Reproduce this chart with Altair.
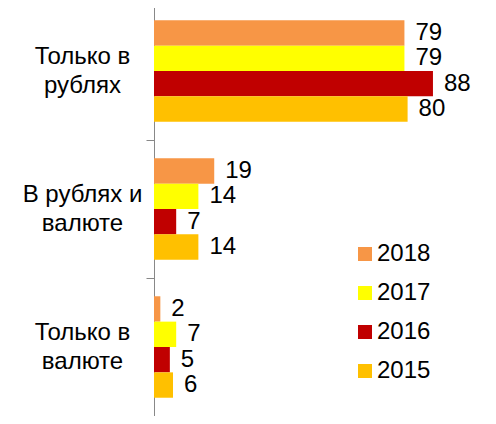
import altair as alt
import pandas as pd

categories = ["Только в|рублях", "В рублях и|валюте", "Только в|валюте"]
years = ["2018", "2017", "2016", "2015"]
v2018 = [79, 19, 2]
v2017 = [79, 14, 7]
v2016 = [88, 7, 5]
v2015 = [80, 14, 6]
colors = ["#F79646", "#FFFF00", "#C00000", "#FFC000"]

rows = []
for yr, vals in zip(years, [v2018, v2017, v2016, v2015]):
    for c, v in zip(categories, vals):
        rows.append({"cat": c, "year": yr, "value": v})
df = pd.DataFrame(rows)

FONT = "Liberation Sans, Arial, sans-serif"

base = alt.Chart(df).encode(
    y=alt.Y(
        "cat:N",
        sort=categories,
        scale=alt.Scale(paddingInner=0, paddingOuter=0),
        axis=alt.Axis(
            title=None,
            labelExpr="split(datum.label, '|')",
            labelAlign="center",
            labelBaseline="middle",
            labelPadding=64,
            labelOffset=-15,
            labelFontSize=24,
            labelLineHeight=29,
            labelFont=FONT,
            labelColor="black",
            tickBand="extent",
            tickSize=8,
            domainColor="#888888",
            tickColor="#888888",
        ),
    ),
    yOffset=alt.YOffset("year:N", sort=years, scale=alt.Scale(paddingInner=0, paddingOuter=0.72)),
    x=alt.X("value:Q", scale=alt.Scale(domain=[0, 100]), axis=None),
)

bars = base.mark_bar().encode(
    color=alt.Color(
        "year:N",
        sort=years,
        scale=alt.Scale(domain=years, range=colors),
        legend=alt.Legend(
            title=None,
            orient="none",
            legendX=199,
            legendY=240,
            symbolType="square",
            symbolSize=196,
            symbolStrokeWidth=0,
            labelFontSize=24,
            labelFont=FONT,
            labelColor="black",
            labelOffset=0,
            rowPadding=15,
            padding=0,
        ),
    )
)

labels = base.mark_text(align="left", baseline="middle", dx=11, fontSize=24, font=FONT, color="black").encode(
    text="value:Q"
)

chart = (
    alt.layer(bars, labels)
    .properties(
        width=317,
        height=414,
        autosize=alt.AutoSizeParams(type="none"),
        padding={"left": 146, "top": -6, "right": 0, "bottom": 0},
    )
    .configure_view(stroke=None)
)

chart.save("out.html", embed_options={"renderer": "svg", "actions": False})
